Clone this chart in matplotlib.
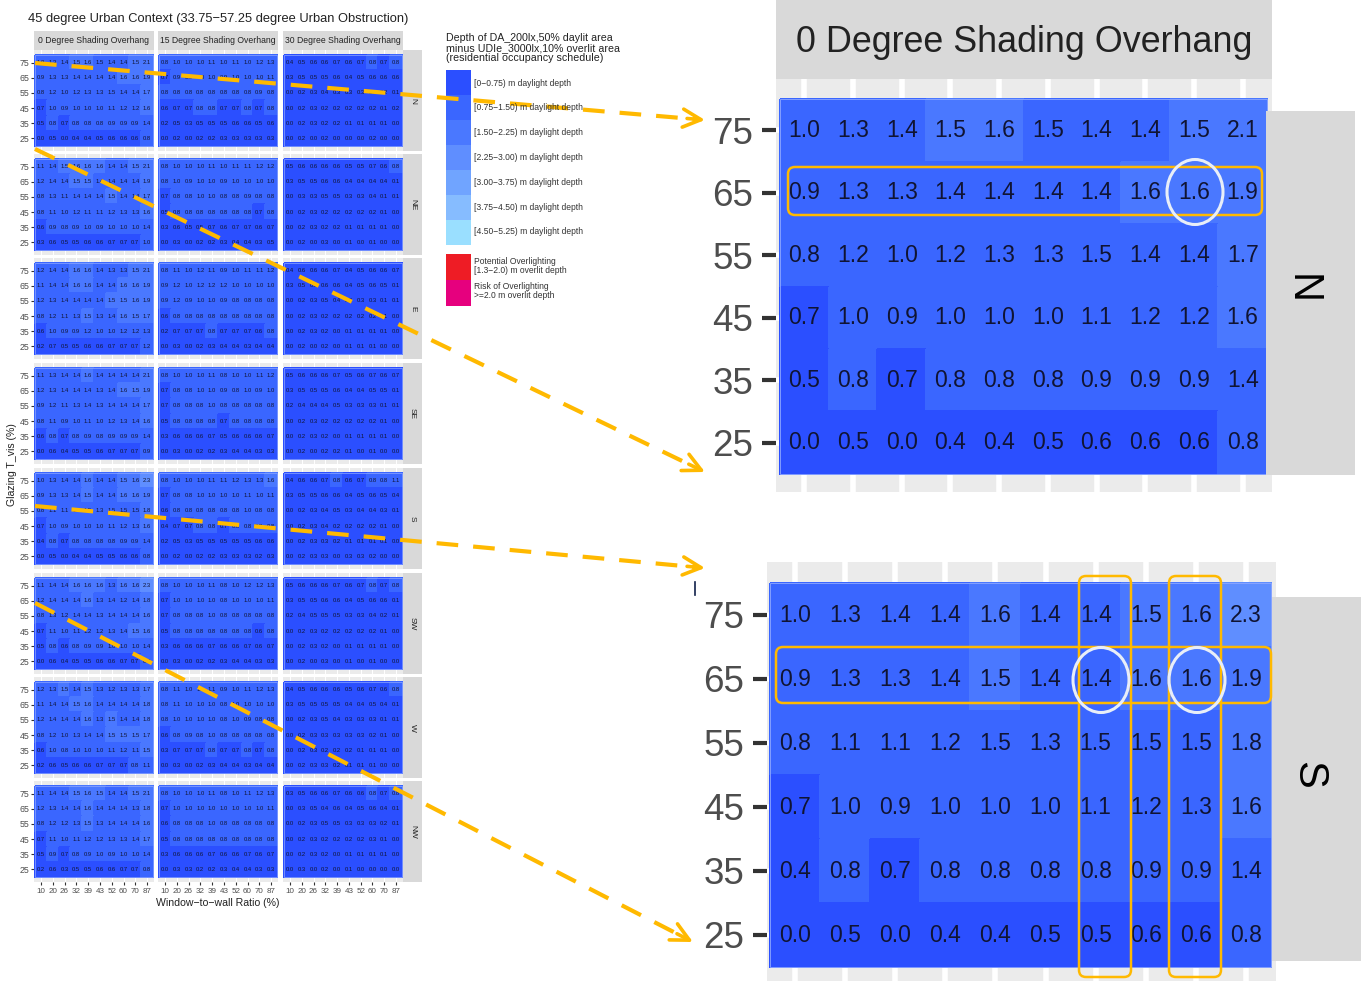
import numpy as np
import matplotlib
matplotlib.use("Agg")
from matplotlib import pyplot as plt
from matplotlib.colors import ListedColormap
from matplotlib.patches import Rectangle, FancyBboxPatch, Ellipse

plt.rcParams["font.family"] = ["Liberation Sans", "DejaVu Sans"]

# data, rows run from 75 down to 25
wwr = [10, 20, 26, 32, 39, 43, 52, 60, 70, 87]
tvis = [75, 65, 55, 45, 35, 25]
shading = ["0 Degree Shading Overhang", "15 Degree Shading Overhang", "30 Degree Shading Overhang"]
orientations = ["N", "NE", "E", "SE", "S", "SW", "W", "NW"]

n_0 = [[1.0, 1.3, 1.4, 1.5, 1.6, 1.5, 1.4, 1.4, 1.5, 2.1],
       [0.9, 1.3, 1.3, 1.4, 1.4, 1.4, 1.4, 1.6, 1.6, 1.9],
       [0.8, 1.2, 1.0, 1.2, 1.3, 1.3, 1.5, 1.4, 1.4, 1.7],
       [0.7, 1.0, 0.9, 1.0, 1.0, 1.0, 1.1, 1.2, 1.2, 1.6],
       [0.5, 0.8, 0.7, 0.8, 0.8, 0.8, 0.9, 0.9, 0.9, 1.4],
       [0.0, 0.5, 0.0, 0.4, 0.4, 0.5, 0.6, 0.6, 0.6, 0.8]]
n_15 = [[0.8, 1.0, 1.0, 1.0, 1.1, 1.0, 1.1, 1.0, 1.2, 1.3],
        [0.7, 0.9, 0.9, 1.0, 1.0, 0.9, 1.0, 1.0, 1.0, 1.1],
        [0.8, 0.8, 0.8, 0.8, 0.8, 0.8, 0.8, 0.8, 0.9, 0.8],
        [0.6, 0.7, 0.7, 0.8, 0.8, 0.7, 0.7, 0.8, 0.7, 0.8],
        [0.2, 0.5, 0.3, 0.5, 0.5, 0.5, 0.6, 0.6, 0.5, 0.6],
        [0.0, 0.2, 0.0, 0.2, 0.2, 0.3, 0.3, 0.3, 0.3, 0.3]]
n_30 = [[0.4, 0.5, 0.6, 0.6, 0.7, 0.6, 0.7, 0.8, 0.7, 0.8],
        [0.3, 0.5, 0.5, 0.5, 0.6, 0.4, 0.5, 0.6, 0.6, 0.6],
        [0.0, 0.2, 0.3, 0.4, 0.3, 0.3, 0.3, 0.3, 0.2, 0.1],
        [0.0, 0.2, 0.3, 0.2, 0.2, 0.2, 0.2, 0.2, 0.1, 0.2],
        [0.0, 0.2, 0.3, 0.2, 0.2, 0.1, 0.1, 0.1, 0.1, 0.0],
        [0.0, 0.2, 0.0, 0.2, 0.0, 0.0, 0.0, 0.2, 0.0, 0.0]]
ne_0 = [[1.1, 1.4, 1.5, 1.6, 1.6, 1.6, 1.4, 1.4, 1.5, 2.1],
        [1.2, 1.4, 1.4, 1.5, 1.5, 1.4, 1.4, 1.4, 1.4, 1.9],
        [0.8, 1.3, 1.1, 1.4, 1.4, 1.4, 1.5, 1.4, 1.4, 1.7],
        [0.8, 1.1, 1.0, 1.2, 1.1, 1.1, 1.2, 1.3, 1.3, 1.6],
        [0.6, 0.9, 0.8, 0.9, 1.0, 0.9, 1.0, 1.0, 1.0, 1.4],
        [0.3, 0.6, 0.5, 0.5, 0.6, 0.6, 0.7, 0.7, 0.7, 1.0]]
ne_15 = [[0.8, 1.0, 1.0, 1.0, 1.1, 1.0, 1.1, 1.1, 1.2, 1.2],
         [0.8, 1.0, 0.9, 1.0, 1.0, 0.9, 1.0, 1.0, 1.0, 1.0],
         [0.7, 0.8, 0.8, 1.0, 1.0, 0.8, 0.8, 0.9, 0.8, 0.8],
         [0.5, 0.8, 0.8, 0.8, 0.8, 0.8, 0.8, 0.8, 0.7, 0.8],
         [0.3, 0.6, 0.5, 0.5, 0.7, 0.6, 0.7, 0.7, 0.6, 0.7],
         [0.0, 0.3, 0.0, 0.2, 0.2, 0.3, 0.4, 0.4, 0.3, 0.5]]
ne_30 = [[0.5, 0.6, 0.6, 0.6, 0.6, 0.5, 0.5, 0.7, 0.6, 0.8],
         [0.3, 0.5, 0.5, 0.6, 0.6, 0.4, 0.4, 0.4, 0.4, 0.1],
         [0.0, 0.3, 0.3, 0.5, 0.5, 0.3, 0.3, 0.4, 0.1, 0.1],
         [0.0, 0.2, 0.3, 0.2, 0.2, 0.2, 0.2, 0.2, 0.1, 0.0],
         [0.0, 0.2, 0.3, 0.2, 0.2, 0.1, 0.1, 0.1, 0.1, 0.0],
         [0.0, 0.2, 0.0, 0.3, 0.0, 0.1, 0.0, 0.1, 0.0, 0.0]]
e_0 = [[1.2, 1.4, 1.4, 1.6, 1.6, 1.4, 1.3, 1.3, 1.5, 2.1],
       [1.1, 1.4, 1.4, 1.6, 1.6, 1.4, 1.4, 1.6, 1.6, 1.9],
       [1.2, 1.3, 1.4, 1.4, 1.4, 1.4, 1.5, 1.5, 1.6, 1.9],
       [0.8, 1.2, 1.1, 1.3, 1.5, 1.3, 1.4, 1.6, 1.5, 1.7],
       [0.6, 1.0, 0.9, 0.9, 1.2, 1.0, 1.0, 1.2, 1.2, 1.3],
       [0.2, 0.7, 0.5, 0.5, 0.6, 0.6, 0.7, 0.7, 0.7, 1.2]]
e_15 = [[0.8, 1.1, 1.0, 1.2, 1.1, 0.9, 1.0, 1.1, 1.1, 1.2],
        [0.9, 1.2, 1.0, 1.2, 1.2, 1.2, 1.0, 1.0, 1.0, 1.0],
        [0.9, 1.2, 0.9, 1.0, 1.0, 0.9, 0.8, 0.8, 0.8, 0.8],
        [0.6, 0.8, 0.8, 0.8, 0.8, 0.8, 0.8, 0.8, 0.8, 0.8],
        [0.2, 0.7, 0.7, 0.7, 0.8, 0.7, 0.7, 0.7, 0.6, 0.8],
        [0.0, 0.3, 0.0, 0.2, 0.3, 0.4, 0.4, 0.3, 0.4, 0.4]]
e_30 = [[0.4, 0.6, 0.6, 0.6, 0.7, 0.4, 0.5, 0.6, 0.6, 0.7],
        [0.3, 0.5, 0.5, 0.6, 0.6, 0.4, 0.5, 0.6, 0.5, 0.1],
        [0.0, 0.2, 0.3, 0.5, 0.4, 0.3, 0.3, 0.3, 0.1, 0.1],
        [0.0, 0.2, 0.3, 0.2, 0.2, 0.2, 0.2, 0.2, 0.1, 0.0],
        [0.0, 0.2, 0.3, 0.2, 0.0, 0.1, 0.1, 0.1, 0.1, 0.0],
        [0.0, 0.2, 0.0, 0.2, 0.0, 0.1, 0.1, 0.1, 0.0, 0.0]]
se_0 = [[1.1, 1.3, 1.4, 1.4, 1.6, 1.4, 1.4, 1.4, 1.4, 2.1],
        [1.2, 1.3, 1.4, 1.4, 1.4, 1.3, 1.4, 1.6, 1.5, 1.9],
        [0.9, 1.2, 1.1, 1.3, 1.4, 1.3, 1.4, 1.4, 1.4, 1.7],
        [0.8, 1.1, 0.9, 1.0, 1.1, 1.0, 1.2, 1.3, 1.4, 1.6],
        [0.6, 0.8, 0.7, 0.8, 0.9, 0.8, 0.9, 0.9, 0.9, 1.4],
        [0.0, 0.6, 0.4, 0.5, 0.5, 0.6, 0.7, 0.7, 0.7, 0.9]]
se_15 = [[0.8, 1.0, 1.0, 1.0, 1.1, 0.8, 1.0, 1.0, 1.1, 1.2],
         [0.7, 0.8, 0.8, 1.0, 1.0, 0.9, 0.8, 1.0, 0.9, 1.0],
         [0.7, 0.8, 0.8, 0.8, 1.0, 0.8, 0.8, 0.8, 0.8, 0.8],
         [0.5, 0.8, 0.8, 0.8, 0.8, 0.7, 0.8, 0.8, 0.8, 0.8],
         [0.3, 0.6, 0.6, 0.6, 0.7, 0.5, 0.6, 0.6, 0.6, 0.7],
         [0.0, 0.3, 0.0, 0.2, 0.2, 0.3, 0.4, 0.4, 0.3, 0.3]]
se_30 = [[0.5, 0.6, 0.6, 0.6, 0.7, 0.5, 0.6, 0.7, 0.6, 0.7],
         [0.3, 0.5, 0.5, 0.5, 0.6, 0.4, 0.4, 0.5, 0.5, 0.1],
         [0.2, 0.4, 0.4, 0.4, 0.5, 0.3, 0.3, 0.3, 0.1, 0.1],
         [0.0, 0.2, 0.3, 0.2, 0.2, 0.2, 0.2, 0.2, 0.1, 0.0],
         [0.0, 0.2, 0.3, 0.2, 0.0, 0.1, 0.1, 0.1, 0.1, 0.0],
         [0.0, 0.2, 0.0, 0.2, 0.2, 0.1, 0.0, 0.1, 0.0, 0.0]]
s_0 = [[1.0, 1.3, 1.4, 1.4, 1.6, 1.4, 1.4, 1.5, 1.6, 2.3],
       [0.9, 1.3, 1.3, 1.4, 1.5, 1.4, 1.4, 1.6, 1.6, 1.9],
       [0.8, 1.1, 1.1, 1.2, 1.5, 1.3, 1.5, 1.5, 1.5, 1.8],
       [0.7, 1.0, 0.9, 1.0, 1.0, 1.0, 1.1, 1.2, 1.3, 1.6],
       [0.4, 0.8, 0.7, 0.8, 0.8, 0.8, 0.8, 0.9, 0.9, 1.4],
       [0.0, 0.5, 0.0, 0.4, 0.4, 0.5, 0.5, 0.6, 0.6, 0.8]]
s_15 = [[0.8, 1.0, 1.0, 1.0, 1.1, 1.1, 1.2, 1.3, 1.3, 1.6],
        [0.7, 0.8, 0.8, 1.0, 1.0, 1.0, 1.0, 1.1, 1.0, 1.1],
        [0.6, 0.8, 0.8, 0.8, 0.8, 0.8, 0.8, 1.0, 0.8, 0.8],
        [0.4, 0.7, 0.7, 0.8, 0.8, 0.7, 0.8, 0.8, 0.8, 0.8],
        [0.2, 0.5, 0.3, 0.5, 0.5, 0.5, 0.5, 0.5, 0.6, 0.6],
        [0.0, 0.2, 0.0, 0.2, 0.2, 0.3, 0.3, 0.3, 0.2, 0.3]]
s_30 = [[0.4, 0.6, 0.6, 0.7, 0.8, 0.6, 0.7, 0.8, 0.8, 1.1],
        [0.3, 0.5, 0.5, 0.6, 0.6, 0.4, 0.5, 0.6, 0.5, 0.4],
        [0.0, 0.2, 0.3, 0.4, 0.5, 0.3, 0.4, 0.4, 0.3, 0.1],
        [0.0, 0.2, 0.3, 0.4, 0.2, 0.2, 0.2, 0.2, 0.1, 0.0],
        [0.0, 0.2, 0.3, 0.3, 0.2, 0.1, 0.1, 0.1, 0.1, 0.0],
        [0.0, 0.2, 0.3, 0.3, 0.0, 0.3, 0.3, 0.2, 0.0, 0.0]]
sw_0 = [[1.1, 1.4, 1.4, 1.6, 1.6, 1.6, 1.3, 1.6, 1.6, 2.3],
        [1.2, 1.4, 1.4, 1.4, 1.6, 1.3, 1.4, 1.2, 1.4, 1.8],
        [0.8, 1.3, 1.2, 1.4, 1.4, 1.3, 1.4, 1.4, 1.4, 1.6],
        [0.7, 1.1, 1.0, 1.1, 1.2, 1.2, 1.3, 1.4, 1.5, 1.6],
        [0.5, 0.8, 0.6, 0.8, 0.9, 0.9, 1.0, 1.0, 1.0, 1.4],
        [0.0, 0.6, 0.4, 0.5, 0.5, 0.6, 0.6, 0.7, 0.7, 0.9]]
sw_15 = [[0.8, 1.0, 1.0, 1.0, 1.1, 0.8, 1.0, 1.2, 1.2, 1.3],
         [0.7, 1.0, 1.0, 1.0, 1.0, 0.8, 1.0, 1.0, 1.0, 1.1],
         [0.7, 0.8, 0.8, 0.8, 1.0, 0.8, 0.8, 0.8, 0.8, 0.8],
         [0.5, 0.8, 0.8, 0.8, 0.8, 0.8, 0.8, 0.8, 0.6, 0.8],
         [0.3, 0.6, 0.6, 0.6, 0.7, 0.6, 0.6, 0.7, 0.6, 0.7],
         [0.0, 0.3, 0.0, 0.2, 0.2, 0.3, 0.4, 0.4, 0.3, 0.3]]
sw_30 = [[0.5, 0.6, 0.6, 0.6, 0.7, 0.6, 0.7, 0.8, 0.7, 0.8],
         [0.3, 0.5, 0.5, 0.6, 0.6, 0.4, 0.5, 0.6, 0.6, 0.1],
         [0.2, 0.4, 0.5, 0.5, 0.5, 0.3, 0.3, 0.4, 0.2, 0.1],
         [0.0, 0.2, 0.3, 0.2, 0.2, 0.2, 0.2, 0.2, 0.1, 0.0],
         [0.0, 0.2, 0.3, 0.2, 0.0, 0.1, 0.1, 0.1, 0.1, 0.0],
         [0.0, 0.2, 0.0, 0.3, 0.0, 0.1, 0.0, 0.1, 0.0, 0.0]]
w_0 = [[1.2, 1.3, 1.5, 1.4, 1.5, 1.3, 1.2, 1.3, 1.3, 1.7],
       [1.1, 1.4, 1.4, 1.5, 1.6, 1.4, 1.4, 1.4, 1.4, 1.8],
       [1.2, 1.4, 1.4, 1.4, 1.6, 1.3, 1.5, 1.4, 1.4, 1.8],
       [0.8, 1.2, 1.0, 1.3, 1.4, 1.4, 1.5, 1.5, 1.5, 1.7],
       [0.6, 1.0, 0.8, 1.0, 1.0, 1.0, 1.1, 1.2, 1.1, 1.5],
       [0.2, 0.6, 0.5, 0.6, 0.6, 0.7, 0.7, 0.7, 0.8, 1.1]]
w_15 = [[0.8, 1.1, 1.0, 1.1, 1.1, 0.9, 1.0, 1.1, 1.2, 1.3],
        [0.8, 1.1, 1.0, 1.0, 1.0, 0.8, 1.0, 1.0, 1.0, 1.0],
        [0.8, 1.0, 1.0, 1.0, 1.0, 0.8, 1.0, 0.9, 0.8, 0.8],
        [0.6, 0.8, 0.9, 0.8, 1.0, 0.8, 0.8, 0.8, 0.8, 0.8],
        [0.3, 0.7, 0.7, 0.7, 0.8, 0.7, 0.7, 0.8, 0.7, 0.8],
        [0.0, 0.3, 0.0, 0.2, 0.3, 0.4, 0.4, 0.3, 0.4, 0.4]]
w_30 = [[0.4, 0.5, 0.6, 0.6, 0.6, 0.5, 0.6, 0.7, 0.6, 0.8],
        [0.3, 0.5, 0.5, 0.5, 0.5, 0.4, 0.4, 0.5, 0.4, 0.1],
        [0.0, 0.2, 0.3, 0.5, 0.4, 0.3, 0.3, 0.3, 0.1, 0.1],
        [0.0, 0.2, 0.3, 0.3, 0.3, 0.3, 0.3, 0.2, 0.1, 0.0],
        [0.0, 0.2, 0.3, 0.2, 0.2, 0.2, 0.1, 0.1, 0.1, 0.0],
        [0.0, 0.2, 0.3, 0.3, 0.2, 0.1, 0.1, 0.1, 0.0, 0.0]]
nw_0 = [[1.1, 1.4, 1.4, 1.5, 1.6, 1.5, 1.4, 1.4, 1.5, 2.1],
        [1.2, 1.3, 1.4, 1.4, 1.6, 1.4, 1.4, 1.4, 1.3, 1.8],
        [0.8, 1.2, 1.2, 1.3, 1.5, 1.3, 1.4, 1.4, 1.4, 1.6],
        [0.7, 1.1, 1.0, 1.1, 1.2, 1.2, 1.3, 1.3, 1.4, 1.7],
        [0.5, 0.9, 0.7, 0.8, 0.9, 1.0, 0.9, 1.0, 1.0, 1.4],
        [0.2, 0.6, 0.3, 0.5, 0.5, 0.6, 0.6, 0.7, 0.7, 0.8]]
nw_15 = [[0.8, 1.0, 1.0, 1.0, 1.1, 0.8, 1.0, 1.1, 1.2, 1.3],
         [0.7, 1.0, 1.0, 1.0, 1.0, 1.0, 1.0, 1.0, 1.0, 1.1],
         [0.6, 0.8, 0.8, 0.8, 1.0, 0.8, 0.8, 0.8, 0.8, 0.8],
         [0.5, 0.8, 0.8, 0.8, 0.8, 0.8, 0.8, 0.8, 0.8, 0.8],
         [0.3, 0.6, 0.6, 0.6, 0.7, 0.6, 0.6, 0.7, 0.6, 0.7],
         [0.0, 0.3, 0.3, 0.2, 0.2, 0.3, 0.4, 0.4, 0.3, 0.3]]
nw_30 = [[0.3, 0.5, 0.6, 0.6, 0.7, 0.6, 0.6, 0.8, 0.7, 0.8],
         [0.0, 0.3, 0.5, 0.4, 0.6, 0.4, 0.5, 0.6, 0.4, 0.1],
         [0.0, 0.2, 0.3, 0.5, 0.5, 0.3, 0.3, 0.3, 0.2, 0.1],
         [0.0, 0.2, 0.3, 0.2, 0.2, 0.2, 0.2, 0.3, 0.1, 0.0],
         [0.0, 0.2, 0.3, 0.2, 0.0, 0.1, 0.1, 0.1, 0.1, 0.0],
         [0.0, 0.3, 0.0, 0.2, 0.0, 0.1, 0.0, 0.0, 0.0, 0.0]]

# colour class of the cells in the two blown up panels
n_0_bins = [[1, 1, 1, 2, 2, 1, 1, 1, 2, 2],
            [1, 1, 1, 1, 1, 1, 1, 2, 2, 2],
            [1, 1, 1, 1, 1, 1, 1, 1, 1, 2],
            [0, 1, 1, 1, 1, 1, 1, 1, 1, 2],
            [0, 1, 0, 1, 1, 1, 1, 1, 1, 1],
            [0, 0, 0, 0, 0, 0, 0, 0, 0, 1]]
s_0_bins = [[1, 1, 1, 1, 2, 1, 1, 2, 2, 3],
            [1, 1, 1, 1, 2, 1, 1, 2, 2, 2],
            [1, 1, 1, 1, 1, 1, 1, 1, 1, 2],
            [0, 1, 1, 1, 1, 1, 1, 1, 1, 2],
            [0, 1, 0, 1, 1, 1, 1, 1, 1, 1],
            [0, 0, 0, 0, 0, 0, 0, 0, 0, 1]]

grids = [[n_0, n_15, n_30], [ne_0, ne_15, ne_30], [e_0, e_15, e_30], [se_0, se_15, se_30],
         [s_0, s_15, s_30], [sw_0, sw_15, sw_30], [w_0, w_15, w_30], [nw_0, nw_15, nw_30]]

legend_colors = ["#2b4fff", "#3a66ff", "#4a78ff", "#5f8eff", "#70a4ff", "#86bcff", "#9adfff"]
legend_labels = ["[0\u22120.75) m daylight depth", "[0.75\u22121.50) m daylight depth",
                 "[1.50\u22122.25) m daylight depth", "[2.25\u22123.00) m daylight depth",
                 "[3.00\u22123.75) m daylight depth", "[3.75\u22124.50) m daylight depth",
                 "[4.50\u22125.25) m daylight depth"]
over_colors = ["#ee1c25", "#e6007e"]
over_labels = ["Potential Overlighting\n[1.3\u22122.0) m overlit depth",
               "Risk of Overlighting\n>=2.0 m overlit depth"]

W, H = 1365, 981
ORANGE = "#ffb900"
cmap = ListedColormap(legend_colors)

fig = plt.figure(figsize=(W / 100, H / 100), dpi=100)


def add_box(x0, y0, x1, y1, **kw):
    # pixel box, measured from the top left of the picture
    return fig.add_axes([x0 / W, 1 - y1 / H, (x1 - x0) / W, (y1 - y0) / H], **kw)


def draw_panel(values, bins, tile, bg, fs, grid_lw, tick_len, tick_w, label_fs, pad, show_x=False, show_y=True, edge=0.6):
    x0, y0, x1, y1 = tile
    ax = add_box(*bg, facecolor="#ebebeb")
    sx = (x1 - x0) / 10
    sy = (y1 - y0) / 6
    ax.set_xlim(-0.5 - (x0 - bg[0]) / sx, 9.5 + (bg[2] - x1) / sx)
    ax.set_ylim(5.5 + (bg[3] - y1) / sy, -0.5 - (y0 - bg[1]) / sy)
    ax.grid(True, color="white", lw=grid_lw)
    ax.set_axisbelow(True)
    ax.pcolormesh(np.arange(11) - 0.5, np.arange(7) - 0.5, bins, cmap=cmap, vmin=-0.5, vmax=6.5,
                  edgecolors="face", linewidth=0.2, zorder=2)
    ax.add_patch(Rectangle((-0.5, -0.5), 10, 6, fill=False, ec="#8fa8ff", lw=edge, zorder=3))
    for r, row in enumerate(values):
        for c, v in enumerate(row):
            ax.text(c, r, f"{v:.1f}", ha="center", va="center", fontsize=fs, color="#101433", zorder=4)
    ax.set_yticks(range(6), [str(t) for t in tvis])
    ax.set_xticks(range(10), [str(t) for t in wwr])
    if show_y:
        ax.tick_params(axis="y", length=tick_len, width=tick_w, color="#333333", labelsize=label_fs,
                       labelcolor="#4d4d4d", pad=pad)
    else:
        ax.tick_params(axis="y", length=0, labelleft=False)
    if show_x:
        ax.tick_params(axis="x", length=tick_len, width=tick_w, color="#333333", labelsize=label_fs - 0.5,
                       labelcolor="#4d4d4d", pad=1.5)
    else:
        ax.tick_params(axis="x", length=0, labelbottom=False)
    for s in ax.spines.values():
        s.set_visible(False)
    return ax


# overview facets on the left
col_x = [(35, 153), (159, 277), (284, 402)]
row_y = [55, 159, 263, 368, 473, 578, 682, 786]
for r, y in enumerate(row_y):
    for c, (xa, xb) in enumerate(col_x):
        vals = np.array(grids[r][c])
        bins = np.digitize(vals, [0.75, 1.5, 2.25])
        if r == 0 and c == 0:
            bins = np.array(n_0_bins)
        if r == 4 and c == 0:
            bins = np.array(s_0_bins)
        draw_panel(vals, bins, (xa, y, xb, y + 91), (xa - 1, y - 5, xb + 1, y + 96), 4.2, 0.7, 2.5, 0.8, 6.3, 0.8,
                   show_x=(r == 7), show_y=(c == 0), edge=0.5)

# blown up panels on the right
draw_panel(n_0, n_0_bins, (780, 99, 1267, 474), (776, 79, 1272, 492), 16.5, 4, 10, 3, 26.5, 6.5)
draw_panel(s_0, s_0_bins, (770, 583, 1271, 967), (767, 562, 1276, 981), 16.5, 4, 10, 3, 26.5, 6.5)

# everything else goes on one transparent sheet in pixel coordinates
sheet = add_box(0, 0, W, H, zorder=10)
sheet.set_xlim(0, W)
sheet.set_ylim(H, 0)
sheet.axis("off")
sheet.patch.set_alpha(0)

STRIP = "#d9d9d9"
for c, (xa, xb) in enumerate(col_x):
    sheet.add_patch(Rectangle((xa - 1, 31), xb - xa + 2, 19, fc=STRIP, ec="none"))
    sheet.text((xa + xb) / 2, 40.5, shading[c], ha="center", va="center", fontsize=6.2, color="#222222")
for r, y in enumerate(row_y):
    sheet.add_patch(Rectangle((403, y - 5), 19, 101, fc=STRIP, ec="none"))
    sheet.text(412.5, y + 45.5, orientations[r], rotation=-90, ha="center", va="center", fontsize=6.0, color="#222222")

sheet.add_patch(Rectangle((776, 0), 496, 79, fc=STRIP, ec="none"))
sheet.text(1024, 43, shading[0], ha="center", va="center", fontsize=25.8, color="#222222")
sheet.add_patch(Rectangle((1266, 111), 89, 364, fc=STRIP, ec="none"))
sheet.text(1302, 289, "N", rotation=-90, ha="center", va="center", fontsize=30, color="black")
sheet.add_patch(Rectangle((1272, 597), 89, 364, fc=STRIP, ec="none"))
sheet.text(1308, 775, "S", rotation=-90, ha="center", va="center", fontsize=30, color="black")

sheet.text(28, 19, "45 degree Urban Context (33.75\u221257.25 degree Urban Obstruction)", ha="left", va="center",
           fontsize=9.3, color="#222222")
sheet.text(218, 903, "Window\u2212to\u2212wall Ratio (%)", ha="center", va="center", fontsize=7.6, color="#222222")
sheet.text(12, 465, "Glazing T_vis (%)", rotation=90, ha="center", va="center", fontsize=7.6, color="#222222")

# legend
sheet.text(446, 48, "Depth of DA_200lx,50% daylit area\nminus UDIe_3000lx,10% overlit area\n(residential occupancy schedule)",
           ha="left", va="center", fontsize=7.7, color="#222222", linespacing=1.02)
for i, (col, lab) in enumerate(zip(legend_colors, legend_labels)):
    sheet.add_patch(Rectangle((446, 70 + i * 25), 25, 25, fc=col, ec="none"))
    sheet.text(474, 83 + i * 24.8, lab, ha="left", va="center", fontsize=6.15, color="#333333")
for i, (col, lab) in enumerate(zip(over_colors, over_labels)):
    sheet.add_patch(Rectangle((446, 254 + i * 26), 25, 26, fc=col, ec="none"))
    sheet.text(474, 266 + i * 25, lab, ha="left", va="center", fontsize=6.15, color="#333333", linespacing=1.0)

# orange leader lines
leaders = [((35, 63), (705, 120)), ((35, 149), (705, 472)), ((35, 506), (705, 568)), ((35, 603), (693, 942))]
for start, end in leaders:
    d = np.array(end) - np.array(start)
    d = d / np.hypot(*d)
    stop = np.array(end) - d * 6
    sheet.plot([start[0], stop[0]], [start[1], stop[1]], color=ORANGE, lw=3, ls=(0, (5.2, 3.6)), solid_capstyle="butt")
    tail = np.array(end) - d * 18
    sheet.annotate("", xy=end, xytext=tail,
                   arrowprops=dict(arrowstyle="->,head_length=1.3,head_width=0.65", color=ORANGE, lw=2.6,
                                   shrinkA=0, shrinkB=0))

# highlight boxes
boxes = [(788, 167, 1262, 215), (776, 647, 1271, 703), (1079, 576, 1131, 977), (1169, 576, 1221, 977)]
for xa, ya, xb, yb in boxes:
    sheet.add_patch(FancyBboxPatch((xa + 6, ya + 6), xb - xa - 12, yb - ya - 12, boxstyle="round,pad=6,rounding_size=7",
                                   fc="none", ec=ORANGE, lw=1.8, mutation_aspect=1))
for cx, cy in [(1195, 192), (1101, 680), (1197, 680)]:
    sheet.add_patch(Ellipse((cx, cy), 56, 65, fc="none", ec="#e8eef8", lw=2.2))

sheet.plot([695, 695], [582, 595], color="#10204a", lw=1.2)

fig.savefig("out.png", dpi=100, facecolor="white")
